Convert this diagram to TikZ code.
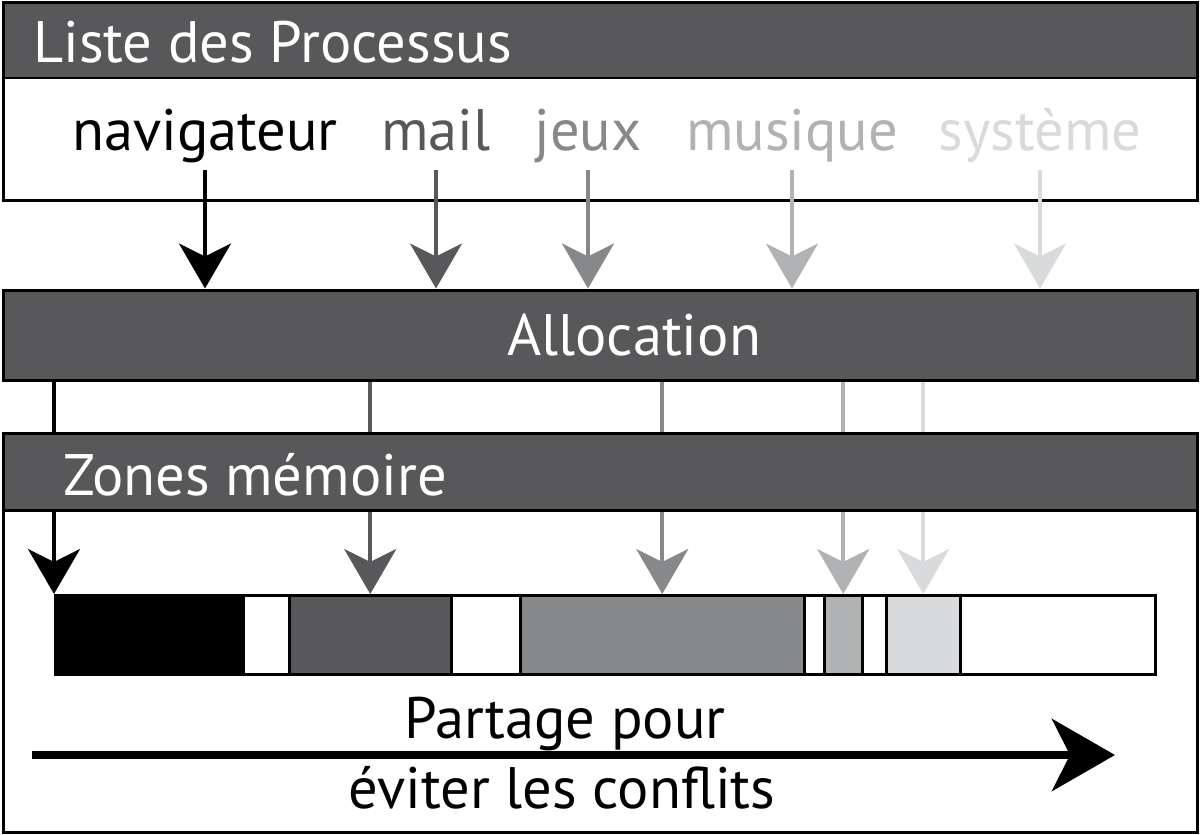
\documentclass[tikz,border=0pt]{standalone}
\usepackage{fontspec}
\setmainfont{PT Sans}
\usetikzlibrary{arrows.meta}

\definecolor{dark}{HTML}{58585A}
\definecolor{gris}{HTML}{87888A}
\definecolor{clair}{HTML}{B1B2B4}
\definecolor{pale}{HTML}{D9DADB}

\begin{document}
\begin{tikzpicture}[
    x=1pt,
    y=-1pt,
    font=\fontsize{58.5}{70}\selectfont,
    box/.style={draw, line width=3pt},
    bar/.style={draw, fill=dark, line width=3pt},
    lbl/.style={inner sep=0pt, anchor=base},
    title/.style={inner sep=0pt, anchor=base west, text=white},
    seg/.style={draw, line width=2.5pt, minimum height=79pt, inner sep=0pt, anchor=north west},
    e/.style={-{Stealth[length=45pt, width=52pt, inset=13pt]}, line width=4pt},
    big/.style={-{Stealth[length=63pt, width=72pt, inset=18pt]}, line width=8pt},
]
    \useasboundingbox (0,0) rectangle (1200,835);

    % liste des processus
    \fill[dark] (3,2) rectangle (1197,78);
    \draw[box] (3,2) rectangle (1197,200);
    \draw[line width=2pt] (3,78) -- (1197,78);
    \node[title] (liste) at (33,62) {Liste des Processus};

    \node[lbl] (nav) at (205,150) {navigateur};
    \node[lbl, text=dark] (mail) at (436,150) {mail};
    \node[lbl, text=gris] (jeux) at (588,150) {jeux};
    \node[lbl, text=clair] (musique) at (792,150) {musique};
    \node[lbl, text=pale] (sys) at (1040,150) {système};

    \node[bar, minimum width=1194pt, minimum height=90pt] (alloc) at (600,335) {};
    \node[lbl, text=white] (alloctxt) at (634,355) {Allocation};

    \draw[e, black, shorten <=20pt] (nav.base) -- (nav.base |- alloc.north);
    \draw[e, dark, shorten <=20pt] (mail.base) -- (mail.base |- alloc.north);
    \draw[e, gris, shorten <=20pt] (jeux.base) -- (jeux.base |- alloc.north);
    \draw[e, clair, shorten <=20pt] (musique.base) -- (musique.base |- alloc.north);
    \draw[e, pale, shorten <=20pt] (sys.base) -- (sys.base |- alloc.north);

    % zones memoire
    \draw[box] (3,433) rectangle (1197,832);
    \foreach \x/\w/\c [count=\i from 0] in {54/188/black, 242/46/white, 288/162/dark, 450/69/white, 519/284/gris, 803/20/white, 823/38/clair, 861/24/white, 885/74/pale, 959/195/white}
        \node[seg, fill=\c, minimum width=\w] (m\i) at (\x,594) {};

    \draw[e, black] (alloc.south -| m0.north west) -- (m0.north west);
    \draw[e, dark] (alloc.south -| m2.north) -- (m2.north);
    \draw[e, gris] (alloc.south -| m4.north) -- (m4.north);
    \draw[e, clair] (alloc.south -| m6.north) -- (m6.north);
    \draw[e, pale] (alloc.south -| m8.north) -- (m8.north);

    \node[bar, minimum width=1194pt, minimum height=77pt] (zones) at (600,471.5) {};
    \node[title] (zonestxt) at (63,495) {Zones mémoire};

    \coordinate (ps) at (32,755);
    \coordinate (pe) at (1115,755);
    \draw[big] (ps) -- (pe);
    \node[lbl] (part) at (565,738) {Partage pour};
    \node[lbl] (evit) at (562,808) {éviter les conflits};
\end{tikzpicture}
\end{document}
